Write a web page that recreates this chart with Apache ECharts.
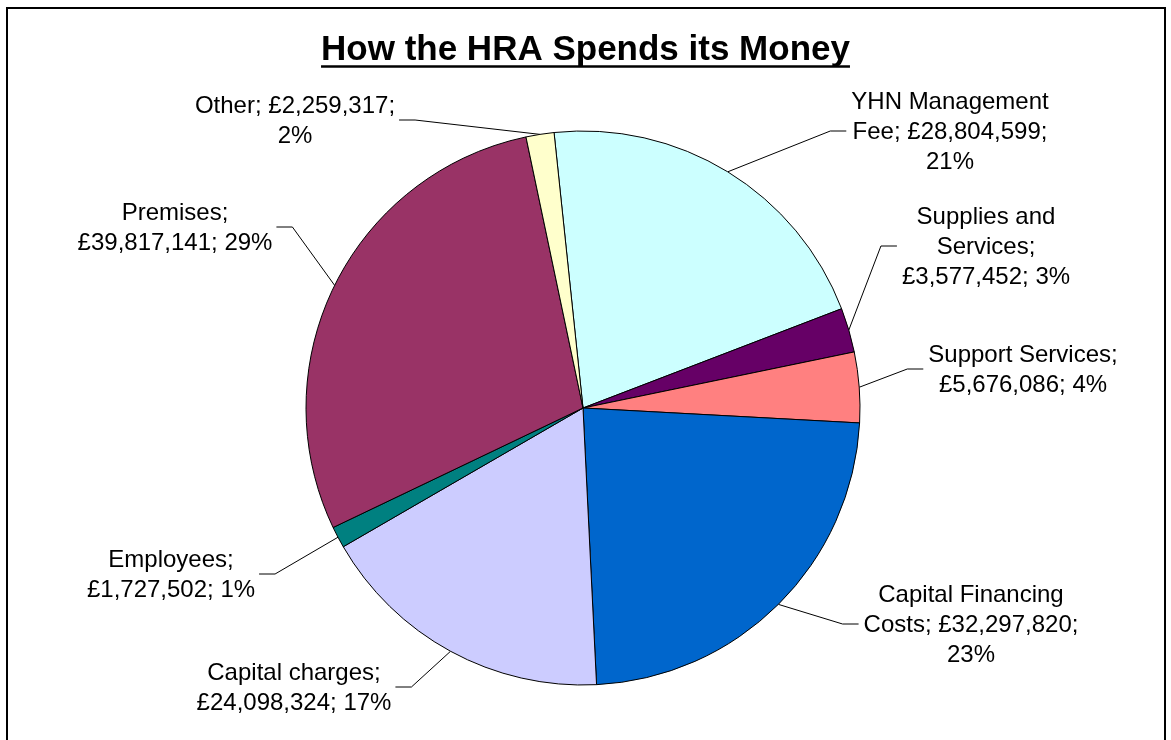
<!DOCTYPE html>
<html>
<head>
<meta charset="utf-8">
<title>How the HRA Spends its Money</title>
<script src="https://cdn.jsdelivr.net/npm/echarts@6/dist/echarts.min.js"></script>
<style>
  html, body { margin: 0; padding: 0; background: #fff; }
  #chart { width: 1171px; height: 740px; }
</style>
</head>
<body>
<div id="chart"></div>
<script>
// HRA expenditure breakdown
const chartTitle = 'How the HRA Spends its Money';
const categories = [
  'YHN Management Fee',
  'Supplies and Services',
  'Support Services',
  'Capital Financing Costs',
  'Capital charges',
  'Employees',
  'Premises',
  'Other'
];
const amounts = [28804599, 3577452, 5676086, 32297820, 24098324, 1727502, 39817141, 2259317];

// Presentation settings
const sliceColours = ['#CCFFFF', '#660066', '#FF8080', '#0066CC', '#CCCCFF', '#008080', '#993366', '#FFFFCC'];
const FONT = '"Liberation Sans", Arial, Helvetica, sans-serif';
const LABEL_SIZE = 24;
const PIE_CENTRE = [583, 408];
const PIE_RADIUS = 277;
const START_ANGLE = 96;
// maximum line width used when wrapping each data label
const wrapWidths = [205, 180, 200, 225, 205, 180, 205, 210];
// centre of each data label block
const labelCentres = [
  [950, 132], [986, 247], [1023, 370], [971, 625],
  [294, 688], [171, 575], [175, 228], [295, 121]
];

const total = amounts.reduce((a, b) => a + b, 0);
const money = v => '£' + String(v).replace(/\B(?=(\d{3})+(?!\d))/g, ',');

const measureCtx = document.createElement('canvas').getContext('2d');
function wrapText(text, maxWidth, font) {
  measureCtx.font = font;
  const words = text.split(' ');
  const lines = [];
  let cur = '';
  for (const w of words) {
    const trial = cur ? cur + ' ' + w : w;
    if (cur && measureCtx.measureText(trial).width > maxWidth) {
      lines.push(cur);
      cur = w;
    } else {
      cur = trial;
    }
  }
  if (cur) lines.push(cur);
  return lines.join('\n');
}

const labelTexts = categories.map((name, i) => {
  const pct = Math.round(amounts[i] / total * 100) + '%';
  return wrapText(name + '; ' + money(amounts[i]) + '; ' + pct, wrapWidths[i], LABEL_SIZE + 'px ' + FONT);
});

// mid-angle of each slice (degrees, counter-clockwise from 3 o'clock)
const midAngles = (() => {
  let acc = 0;
  return amounts.map(v => {
    const a = START_ANGLE - (acc + v / 2) / total * 360;
    acc += v;
    return a;
  });
})();

function arcPoint(i) {
  const a = midAngles[i] * Math.PI / 180;
  return [PIE_CENTRE[0] + PIE_RADIUS * Math.cos(a), PIE_CENTRE[1] - PIE_RADIUS * Math.sin(a)];
}

const chart = echarts.init(document.getElementById('chart'), null, { renderer: 'canvas' });

const titleFont = 'bold 35px ' + FONT;
measureCtx.font = titleFont;
const titleWidth = measureCtx.measureText(chartTitle).width;
const titleX = 585.5;

chart.setOption({
  animation: false,
  backgroundColor: '#ffffff',
  graphic: [
    {
      type: 'rect',
      silent: true,
      shape: { x: 7, y: 8, width: 1158, height: 800 },
      style: { fill: 'none', stroke: '#000', lineWidth: 2 }
    },
    {
      type: 'text',
      silent: true,
      style: {
        text: chartTitle,
        x: titleX,
        y: 50,
        align: 'center',
        verticalAlign: 'middle',
        font: titleFont,
        fill: '#000'
      }
    },
    {
      type: 'line',
      silent: true,
      shape: { x1: titleX - titleWidth / 2, y1: 66.5, x2: titleX + titleWidth / 2, y2: 66.5 },
      style: { stroke: '#000', lineWidth: 2.5 }
    }
  ],
  series: [
    {
      type: 'pie',
      silent: true,
      center: PIE_CENTRE,
      radius: [0, PIE_RADIUS],
      startAngle: START_ANGLE,
      clockwise: true,
      avoidLabelOverlap: false,
      emphasis: { disabled: true },
      itemStyle: { borderColor: '#000', borderWidth: 1 },
      data: categories.map((name, i) => ({
        name: name,
        value: amounts[i],
        itemStyle: { color: sliceColours[i] }
      })),
      label: {
        show: true,
        position: 'outside',
        formatter: p => labelTexts[p.dataIndex],
        fontFamily: FONT,
        fontSize: LABEL_SIZE,
        lineHeight: 30,
        color: '#000'
      },
      labelLine: {
        show: true,
        length: 20,
        length2: 16,
        lineStyle: { color: '#000', width: 1 }
      },
      labelLayout: function (params) {
        const i = params.dataIndex;
        const c = labelCentres[i];
        const w = params.labelRect.width;
        const onRight = Math.cos(midAngles[i] * Math.PI / 180) > 0;
        const endX = onRight ? c[0] - w / 2 - 5 : c[0] + w / 2 + 4;
        const elbowX = onRight ? endX - 16 : endX + 16;
        const lineY = c[1] - 1;
        const start = (params.labelLinePoints && params.labelLinePoints[0]) || arcPoint(i);
        return {
          x: c[0],
          y: c[1],
          align: 'center',
          verticalAlign: 'middle',
          labelLinePoints: [start, [elbowX, lineY], [endX, lineY]]
        };
      }
    }
  ]
});
</script>
</body>
</html>
